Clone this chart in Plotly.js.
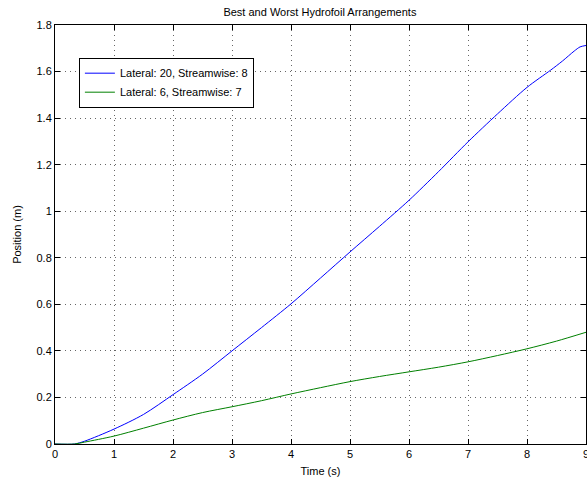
<!DOCTYPE html>
<html>
<head>
<meta charset="utf-8">
<script src="https://cdn.plot.ly/plotly-3.0.1.min.js"></script>
<style>html,body{margin:0;padding:0;background:#fff;}#chart{width:587px;height:487px;}</style>
</head>
<body>
<div id="chart"></div>
<script>
// Time (s)
const timeBest = [0, 0.33, 0.5, 1, 1.5, 2, 2.5, 3, 3.5, 4, 4.5, 5, 5.5, 6, 6.5, 7, 7.5, 8, 8.4, 8.6, 8.8, 8.9, 9];
// Lateral: 20, Streamwise: 8 position (m)
const posBest = [0, 0, 0.012, 0.064, 0.127, 0.212, 0.30, 0.40, 0.50, 0.602, 0.713, 0.825, 0.935, 1.047, 1.17, 1.298, 1.418, 1.532, 1.606, 1.645, 1.688, 1.706, 1.712];

const timeWorst = [0, 0.33, 0.5, 1, 1.5, 2, 2.5, 3, 3.5, 4, 4.5, 5, 5.5, 6, 6.5, 7, 7.5, 8, 8.5, 9];
// Lateral: 6, Streamwise: 7 position (m)
const posWorst = [0, 0, 0.008, 0.034, 0.068, 0.103, 0.135, 0.16, 0.186, 0.215, 0.242, 0.268, 0.29, 0.31, 0.33, 0.353, 0.38, 0.409, 0.442, 0.48];

const seriesNames = ['Lateral: 20, Streamwise: 8', 'Lateral: 6, Streamwise: 7'];
const xTicks = [0,1,2,3,4,5,6,7,8,9];
const yTicks = [0,0.2,0.4,0.6,0.8,1,1.2,1.4,1.6,1.8];
const yTickText = ['0','0.2','0.4','0.6','0.8','1','1.2','1.4','1.6','1.8'];

const font = {family: 'Liberation Sans, Arial, sans-serif', size: 11, color: '#000'};

const traces = [
  {x: timeBest, y: posBest, name: seriesNames[0], mode: 'lines', line: {color: '#0000ff', width: 1, shape: 'spline', smoothing: 0.8}},
  {x: timeWorst, y: posWorst, name: seriesNames[1], mode: 'lines', line: {color: '#008000', width: 1, shape: 'spline', smoothing: 0.8}}
];

const axisCommon = {
  showline: true, linecolor: '#000', linewidth: 1, mirror: 'ticks',
  ticks: 'inside', ticklen: 5, tickcolor: '#000', tickwidth: 1,
  showgrid: true, gridcolor: '#666', gridwidth: 1, griddash: '1px,4px',
  zeroline: false, tickfont: font, ticklabeloverflow: 'allow'
};

const layout = {
  width: 587, height: 487,
  margin: {l: 55, r: 1, t: 25, b: 43},
  paper_bgcolor: '#fff', plot_bgcolor: '#fff',
  font: font,
  title: {text: 'Best and Worst Hydrofoil Arrangements', font: font, x: 0.545, xanchor: 'center', y: 0.975, yanchor: 'middle'},
  xaxis: Object.assign({}, axisCommon, {range: [0, 9], tickvals: xTicks, ticktext: xTicks.map(String),
    title: {text: 'Time (s)', font: font, standoff: 8}}),
  yaxis: Object.assign({}, axisCommon, {range: [0, 1.8], tickvals: yTicks, ticktext: yTickText,
    title: {text: 'Position (m)', font: font, standoff: 12}}),
  showlegend: true,
  legend: {x: 0.045, y: 0.922, xanchor: 'left', yanchor: 'top', bgcolor: '#fff', bordercolor: '#000', borderwidth: 1,
    font: font, tracegroupgap: 0, itemwidth: 30}
};

Plotly.newPlot('chart', traces, layout, {displayModeBar: false, staticPlot: true});
</script>
</body>
</html>
